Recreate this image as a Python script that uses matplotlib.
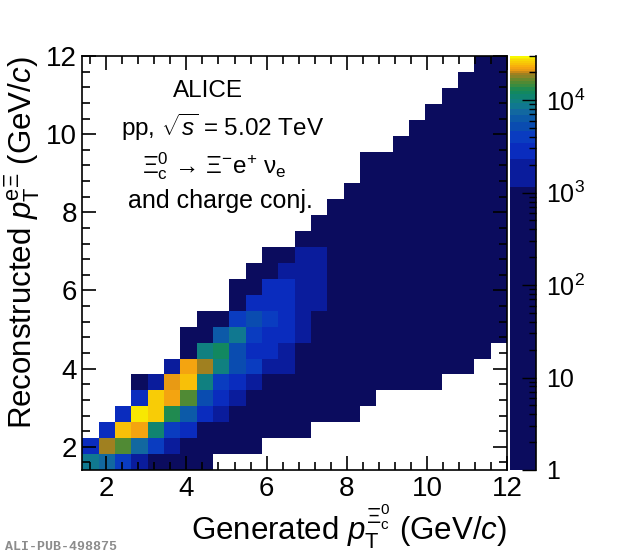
import numpy as np
import matplotlib
matplotlib.use("Agg")
import matplotlib.pyplot as plt
from matplotlib.colors import ListedColormap, BoundaryNorm
from matplotlib.ticker import MultipleLocator, FixedLocator, FixedFormatter, NullFormatter, LogLocator

plt.rcParams['font.family'] = ['Liberation Sans', 'DejaVu Sans']
plt.rcParams['mathtext.fontset'] = 'custom'
plt.rcParams['mathtext.rm'] = 'Liberation Sans'
plt.rcParams['mathtext.it'] = 'Liberation Sans:italic'
plt.rcParams['mathtext.bf'] = 'Liberation Sans:bold'

# binning: 27 bins between 1 and 12 GeV/c, the first one is outside the shown range
bin_edges = np.linspace(1.0, 12.0, 28)[1:]

# response matrix, one entry per reconstructed-pT row (bottom to top):
# (first generated-pT bin that is filled, counts in the following bins)
rows = [
    (0, [8500, 7500, 4000, 1700, 900, 500, 250, 80]),
    (0, [2900, 19000, 15500, 7500, 4000, 1700, 800, 400, 200, 90, 20]),
    (1, [2900, 25000, 22000, 11000, 4000, 2900, 900, 450, 220, 110, 50, 15, 3]),
    (2, [2900, 28500, 25500, 13000, 6500, 2900, 1700, 700, 350, 180, 90, 40, 15, 6, 2]),
    (3, [2900, 25500, 22500, 15500, 5200, 2900, 1700, 800, 400, 200, 100, 45, 20, 8, 2]),
    (3, [300, 1700, 21000, 25000, 10000, 4000, 2900, 1700, 900, 450, 220, 110, 60, 30, 15, 8, 4, 2, 1]),
    (5, [1700, 23000, 19000, 10000, 5200, 3500, 2000, 1300, 900, 550, 280, 140, 70, 35, 18, 9, 5, 2, 1]),
    (6, [700, 10000, 12000, 5200, 2900, 2500, 1700, 1100, 650, 330, 170, 90, 45, 22, 11, 6, 3, 2, 1]),
    (6, [300, 800, 6500, 8500, 4000, 2900, 2400, 1700, 900, 500, 260, 130, 70, 35, 18, 9, 5, 3, 2, 1]),
    (7, [400, 900, 4000, 5200, 4000, 2900, 1700, 1000, 600, 320, 160, 80, 40, 20, 10, 6, 3, 2, 1]),
    (9, [500, 2900, 3200, 2900, 1700, 1400, 800, 450, 230, 120, 60, 30, 16, 8, 4, 2, 1]),
    (9, [150, 700, 2900, 2900, 1700, 1500, 900, 550, 300, 160, 80, 40, 20, 10, 5, 3, 2]),
    (10, [200, 800, 1800, 1700, 1600, 1000, 650, 380, 200, 100, 55, 28, 14, 7, 4, 2]),
    (11, [250, 900, 1500, 1600, 1050, 750, 450, 250, 130, 70, 36, 18, 9, 5, 3]),
    (13, [300, 1000, 1000, 800, 550, 320, 170, 90, 48, 24, 12, 6, 3]),
    (14, [350, 900, 850, 650, 400, 220, 120, 65, 33, 17, 9, 4]),
    (15, [350, 800, 700, 480, 280, 160, 85, 45, 23, 12, 6]),
    (16, [300, 650, 550, 350, 200, 110, 60, 32, 16, 8]),
    (17, [400, 550, 420, 260, 150, 80, 42, 22, 11]),
    (17, [120, 350, 450, 320, 190, 105, 56, 29, 15]),
    (19, [250, 360, 240, 140, 75, 40, 20]),
    (20, [200, 280, 180, 100, 54, 28]),
    (21, [170, 220, 130, 72, 38]),
    (22, [140, 170, 95, 50]),
    (23, [110, 130, 70]),
    (24, [90, 100]),
]

# colour levels: linear contours, shown on a log colour axis
z_max = 30000
n_levels = 26
level_colors = [
    '#0b0c5e', '#0a1c9c', '#0a2cbe', '#0a3cc0', '#0a4cb0', '#0c5aa8',
    '#1268a0', '#107890', '#108080', '#108470', '#128860', '#208a50',
    '#3a8c40', '#508a34', '#6a882c', '#8a8426', '#a08020', '#c88a18',
    '#e89a14', '#f4a410', '#f8b00c', '#f8c008', '#f8cc06', '#f8d804',
    '#f8e802', '#f8f800',
]

n_bins = len(bin_edges) - 1
counts = np.zeros((n_bins, n_bins))
for j, (start, vals) in enumerate(rows):
    counts[j, start:start + len(vals)] = vals
counts = np.ma.masked_equal(counts, 0)

levels = np.linspace(0, z_max, n_levels + 1)
cmap = ListedColormap(level_colors)
norm = BoundaryNorm(levels, n_levels)

fig = plt.figure(figsize=(6.2, 5.56), dpi=100)
ax = fig.add_axes([0.133, 0.1547, 0.685, 0.7446])
ax.pcolormesh(bin_edges, bin_edges, counts, cmap=cmap, norm=norm)
ax.set_xlim(bin_edges[0], 12)
ax.set_ylim(bin_edges[0], 12)

ax.xaxis.set_major_locator(MultipleLocator(2))
ax.yaxis.set_major_locator(MultipleLocator(2))
ax.xaxis.set_minor_locator(MultipleLocator(0.4))
ax.yaxis.set_minor_locator(MultipleLocator(0.4))
ax.tick_params(which='both', direction='in', top=True, right=True, width=1.2)
ax.tick_params(which='major', length=10, labelsize=20, pad=4)
ax.tick_params(which='minor', length=5.5)
for s in ax.spines.values():
    s.set_linewidth(1.2)

ax.set_xlabel(r'Generated $p_{\mathrm{T}}^{\Xi_{\mathrm{c}}^{0}}$ (GeV/$c$)',
              fontsize=22.5, loc='right', labelpad=1)
ax.set_ylabel(r'Reconstructed $p_{\mathrm{T}}^{\mathrm{e}\Xi}$ (GeV/$c$)',
              fontsize=22.5, loc='top', labelpad=3)

# annotations
ax.text(0.295, 0.915, 'ALICE', transform=ax.transAxes, fontsize=17.5, ha='center', va='center')
ax.text(0.33, 0.827, r'pp, $\sqrt{s}$ = 5.02 TeV', transform=ax.transAxes,
        fontsize=17.5, ha='center', va='center')
ax.text(0.31, 0.735, r'$\Xi_{\mathrm{c}}^{0}$ → $\Xi^{-}\mathrm{e}^{+}$ ν$_{\mathrm{e}}$',
        transform=ax.transAxes, fontsize=17.5, ha='center', va='center')
ax.text(0.325, 0.65, 'and charge conj.', transform=ax.transAxes, fontsize=18,
        ha='center', va='center')

# colour bar drawn as a log axis with the linear contour bands
cax = fig.add_axes([0.8226, 0.1547, 0.042, 0.7446])
bar_edges = levels.copy()
bar_edges[0] = 1
bar_vals = ((levels[:-1] + levels[1:]) / 2)[:, None]
cax.pcolormesh([0, 1], bar_edges, bar_vals, cmap=cmap, norm=norm)
cax.set_yscale('log')
cax.set_ylim(1, z_max)
cax.set_xlim(0, 1)
cax.set_xticks([])
cax.yaxis.tick_right()
cax.yaxis.set_major_locator(FixedLocator([1, 10, 100, 1000, 10000]))
cax.yaxis.set_major_formatter(FixedFormatter(['1', '10', '$10^{2}$', '$10^{3}$', '$10^{4}$']))
cax.yaxis.set_minor_locator(LogLocator(subs=np.arange(2, 10)))
cax.yaxis.set_minor_formatter(NullFormatter())
cax.tick_params(which='both', direction='in', width=1.0, labelsize=18, pad=7)
cax.tick_params(which='major', length=10)
cax.tick_params(which='minor', length=5)
for side in ['top', 'left', 'bottom']:
    cax.spines[side].set_visible(False)
cax.spines['right'].set_linewidth(1.2)

fig.text(0.008, 0.006, 'ALI-PUB-498875', fontsize=9.5, family='Liberation Mono',
         weight='bold', color='#8c8c8c', ha='left', va='bottom')

fig.savefig('out.png', dpi=100)
